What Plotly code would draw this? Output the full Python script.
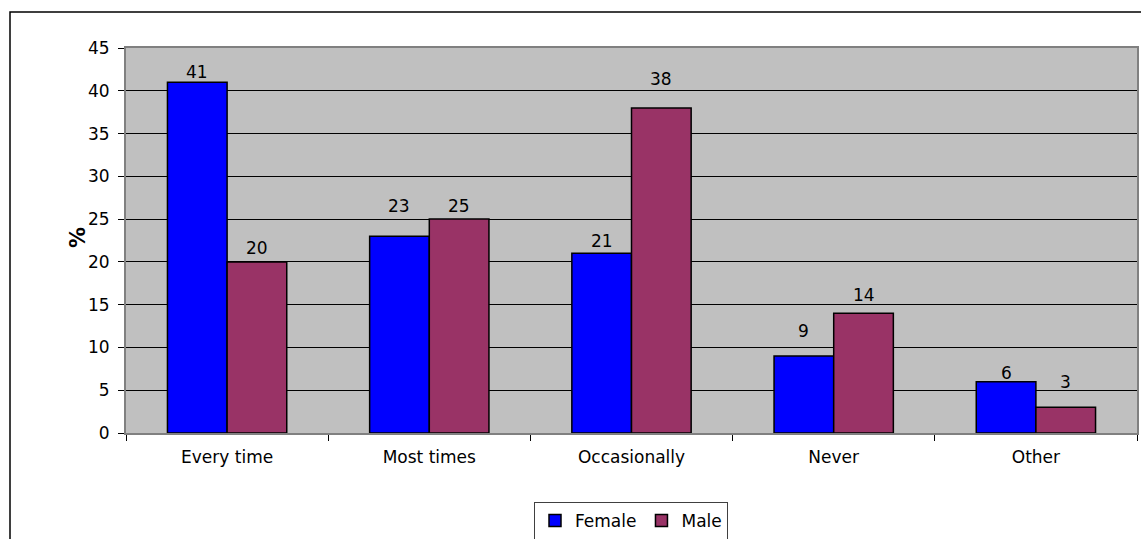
import plotly.graph_objects as go

categories = ["Every time", "Most times", "Occasionally", "Never", "Other"]
female = [41, 23, 21, 9, 6]
male = [20, 25, 38, 14, 3]
y_ticks = [0, 5, 10, 15, 20, 25, 30, 35, 40, 45]

# label gap above bar top (px), as placed in the original chart
female_label_gap = [5, 25, 7, 20, 4]
male_label_gap = [9, 8, 24, 13, 20]

W, H = 1141, 539
L, R, T, B = 126, 4, 48, 106
pw = W - L - R
ph = H - T - B

def px_x(x):
    return (x - L) / pw

def px_y(y):
    return (H - B - y) / ph

FONT = "DejaVu Sans, Arial, sans-serif"
BARGAP = 0.41
half_bar_px = (pw / len(categories)) * (1 - BARGAP) / 4

fig = go.Figure()
fig.add_trace(go.Bar(
    name="Female", x=categories, y=female,
    marker=dict(color="#0000FF", line=dict(color="black", width=1.5)),
))
fig.add_trace(go.Bar(
    name="Male", x=categories, y=male,
    marker=dict(color="#993366", line=dict(color="black", width=1.5)),
))

annotations = []
for vals, gaps, sign in ((female, female_label_gap, -1), (male, male_label_gap, 1)):
    for c, v, g in zip(categories, vals, gaps):
        annotations.append(dict(
            x=c, y=v, xref="x", yref="y", text=str(v), showarrow=False,
            xanchor="center", yanchor="bottom", xshift=sign * half_bar_px,
            yshift=g - 7, font=dict(size=17, family=FONT, color="black"),
        ))
annotations.append(dict(
    text="<b>%</b>", xref="paper", yref="paper", x=px_x(64), y=px_y(238),
    showarrow=False, textangle=-90, font=dict(size=21, family=FONT, color="black")))

fig.update_layout(
    width=W, height=H,
    margin=dict(l=L, r=R, t=T, b=B, autoexpand=False),
    paper_bgcolor="white",
    plot_bgcolor="#C0C0C0",
    barmode="group",
    bargap=BARGAP,
    bargroupgap=0,
    font=dict(family=FONT, size=17, color="black"),
    showlegend=True,
    legend=dict(
        orientation="h", x=px_x(631), xanchor="center",
        y=px_y(502), yanchor="top",
        bordercolor="#404040", borderwidth=1, bgcolor="white",
        font=dict(size=17, family=FONT, color="black"),
        itemwidth=30, tracegroupgap=0,
    ),
    xaxis=dict(
        showgrid=False, showline=True, linecolor="#808080", linewidth=2, mirror=True,
        ticks="outside", tickson="boundaries", ticklen=6, tickcolor="black",
        ticklabelstandoff=8,
        tickfont=dict(size=17, family=FONT, color="black"),
    ),
    yaxis=dict(
        range=[0, 45], tickvals=y_ticks, showgrid=True, gridcolor="black", gridwidth=1,
        zeroline=False,
        showline=True, linecolor="#808080", linewidth=2, mirror=True,
        ticks="outside", ticklen=6, tickcolor="black", ticklabelstandoff=5,
        tickfont=dict(size=17, family=FONT, color="black"),
    ),
    shapes=[
        dict(type="rect", xref="paper", yref="paper",
             x0=px_x(10), x1=px_x(1150), y0=px_y(560), y1=px_y(12),
             line=dict(color="black", width=1.5), fillcolor="rgba(0,0,0,0)", layer="below"),
    ],
    annotations=annotations,
)

fig.write_html("out.html")
